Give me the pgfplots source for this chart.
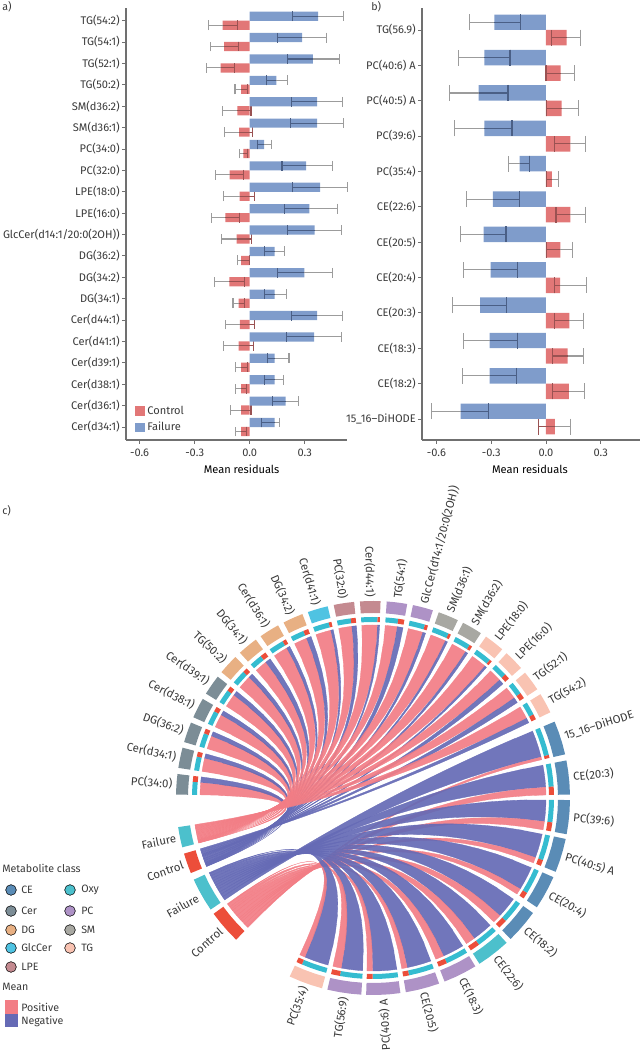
\documentclass[border=0pt]{standalone}
\usepackage{fontspec}
\setmainfont{Fira Sans}
\usepackage{pgfplots}
\usepackage{pgfplotstable}
\pgfplotsset{compat=1.18}

\definecolor{barblue}{HTML}{7F9CCB}
\definecolor{barred}{HTML}{E27777}
\definecolor{axgray}{HTML}{707070}
\definecolor{txt}{HTML}{3A3A3A}
\definecolor{whisk}{HTML}{9C9C9C}
\definecolor{whiskblue}{HTML}{4A5F86}
\definecolor{whiskred}{HTML}{9A5252}
\definecolor{pos}{HTML}{F27D85}
\definecolor{neg}{HTML}{656AB5}
\definecolor{cCE}{HTML}{5A8CB6}
\definecolor{cCer}{HTML}{7C8D96}
\definecolor{cDG}{HTML}{E8B083}
\definecolor{cGlc}{HTML}{4FC3E2}
\definecolor{cLPE}{HTML}{C48A90}
\definecolor{cOxy}{HTML}{4CC0CC}
\definecolor{cPC}{HTML}{AE92C6}
\definecolor{cSM}{HTML}{A8A8A2}
\definecolor{cTG}{HTML}{F9C3B2}
\definecolor{ringcy}{HTML}{35BCD0}
\definecolor{ringre}{HTML}{EC4E3A}

% pos failure minus plus control minus plus
\pgfplotstableread{
pos f fm fp c cm cp
19 0.373 0.138 0.138 -0.147 0.078 0.082
18 0.285 0.135 0.135 -0.140 0.075 0.078
17 0.344 0.140 0.147 -0.158 0.077 0.076
16 0.145 0.056 0.062 -0.047 0.033 0.034
15 0.367 0.138 0.138 -0.067 0.082 0.074
14 0.367 0.144 0.144 -0.058 0.078 0.074
13 0.078 0.036 0.042 -0.035 0.020 0.022
12 0.307 0.131 0.144 -0.109 0.075 0.074
11 0.384 0.149 0.149 -0.055 0.087 0.082
10 0.325 0.138 0.151 -0.133 0.076 0.078
9 0.353 0.145 0.145 -0.071 0.082 0.082
8 0.136 0.053 0.053 -0.047 0.022 0.045
7 0.298 0.147 0.153 -0.111 0.080 0.082
6 0.136 0.053 0.065 -0.060 0.031 0.033
5 0.367 0.138 0.138 -0.053 0.078 0.080
4 0.351 0.149 0.149 -0.060 0.084 0.082
3 0.136 0.038 0.078 -0.047 0.029 0.034
2 0.136 0.053 0.047 -0.047 0.029 0.029
1 0.196 0.071 0.069 -0.047 0.060 0.054
0 0.136 0.074 0.025 -0.047 0.029 0.029
}\dataA

\pgfplotstableread{
pos f fm fp c cm cp
11 -0.282 0.138 0.143 0.113 0.082 0.075
10 -0.338 0.139 0.141 0.080 0.080 0.077
9 -0.369 0.161 0.161 0.086 0.084 0.093
8 -0.338 0.161 0.152 0.133 0.084 0.086
7 -0.144 0.059 0.056 0.033 0.029 0.035
6 -0.291 0.144 0.147 0.133 0.078 0.086
5 -0.342 0.126 0.123 0.079 0.074 0.067
4 -0.303 0.149 0.148 0.077 0.029 0.144
3 -0.360 0.150 0.142 0.128 0.079 0.077
2 -0.309 0.143 0.154 0.119 0.082 0.086
1 -0.309 0.148 0.148 0.126 0.089 0.084
0 -0.468 0.157 0.152 0.049 0.089 0.086
}\dataB

% chord sectors, clockwise: name/angle/class colour/|failure mean|/|control mean|
\def\leftlist{PC(34:0)/176/cCer/0.078/0.035,
Cer(d34:1)/168.2/cCer/0.136/0.047,
DG(36:2)/160.5/cCer/0.136/0.047,
Cer(d38:1)/152.8/cCer/0.136/0.047,
Cer(d39:1)/145/cCer/0.136/0.047,
TG(50:2)/137.3/cDG/0.145/0.047,
DG(34:1)/129.5/cDG/0.136/0.060,
Cer(d36:1)/121.8/cDG/0.196/0.047,
DG(34:2)/114/cDG/0.298/0.111,
Cer(d41:1)/106.3/cGlc/0.351/0.060,
PC(32:0)/98.5/cLPE/0.307/0.109,
Cer(d44:1)/90.8/cLPE/0.367/0.053,
TG(54:1)/83/cPC/0.285/0.140,
{GlcCer(d14:1/20:0(2OH))}/75.3/cPC/0.353/0.071,
SM(d36:1)/67.5/cSM/0.367/0.058,
SM(d36:2)/59.8/cSM/0.367/0.067,
LPE(18:0)/52/cTG/0.384/0.055,
LPE(16:0)/44.3/cTG/0.325/0.133,
TG(52:1)/36.5/cTG/0.344/0.158,
TG(54:2)/28.8/cTG/0.373/0.147}
\def\rightlist{15\_16--DiHODE/17.8/cCE/0.468/0.049,
CE(20:3)/6/cCE/0.360/0.128,
PC(39:6)/-5.6/cCE/0.338/0.133,
PC(40:5) A/-17/cCE/0.369/0.086,
CE(20:4)/-28.7/cCE/0.303/0.077,
CE(18:2)/-40.7/cCE/0.309/0.126,
CE(22:6)/-52.3/cOxy/0.291/0.133,
CE(18:3)/-63.7/cPC/0.309/0.119,
CE(20:5)/-75.4/cPC/0.342/0.079,
PC(40:6) A/-87/cPC/0.338/0.080,
TG(56:9)/-98.4/cPC/0.282/0.113,
PC(35:4)/-110/cTG/0.144/0.033}

\def\Cx{373}\def\Cy{252}\def\Rr{173}\def\Rg{180}
\newcommand\arcpts[3]{\foreach \i in {0,...,3}{%
  \xdef\coords{\coords (\fpeval{round(\Cx+#1*cosd(#2+(#3-(#2))*\i/3),2)},\fpeval{round(\Cy+#1*sind(#2+(#3-(#2))*\i/3),2)}) }}}
% quadratic curve from radius #1 to radius #3 with its control point at the centre
\newcommand\bezpts[4]{\foreach \i in {1,...,17}{%
  \xdef\coords{\coords (\fpeval{round(\Cx+(1-\i/18)^2*#1*cosd(#2)+(\i/18)^2*#3*cosd(#4),2)},\fpeval{round(\Cy+(1-\i/18)^2*#1*sind(#2)+(\i/18)^2*#3*sind(#4),2)}) }}}
\newcommand\ribbon[5]{\gdef\coords{}\arcpts{\Rr}{#2}{#3}\bezpts{\Rr}{#3}{\Rg}{#4}\arcpts{\Rg}{#4}{#5}\bezpts{\Rg}{#5}{\Rr}{#2}%
  \edef\tmp{\noexpand\addplot[fill=#1,draw=#1,line width=0.25pt,opacity=0.92,forget plot] coordinates {\coords};}\tmp}
\newcommand\sector[5]{\gdef\coords{}\arcpts{#1}{#3}{#4}\arcpts{#2}{#4}{#3}%
  \edef\tmp{\noexpand\addplot[fill=#5,draw=none,forget plot] coordinates {\coords};}\tmp}
\newcommand\seclabel[3]{% name angle radius
  \edef\lx{\fpeval{round(\Cx+(#3)*cosd(#2),2)}}\edef\ly{\fpeval{round(\Cy+(#3)*sind(#2),2)}}%
  \edef\rot{\fpeval{#2>-85 && #2<85 ? #2 : #2+180}}%
  \edef\anc{\fpeval{#2>-85 && #2<85 ? 1 : 0}}%
  \edef\tmp{\noexpand\node[rotate=\rot,anchor=\ifnum\anc=1 west\else east\fi,inner sep=0pt,text=txt,font=\noexpand\fontsize{8.6}{10}\noexpand\selectfont] at (axis cs:\lx,\ly) {\unexpanded{#1}};}\tmp}

% #1 list #2 half width #3,#4,#5 failure group centre, half width, colour #6,#7,#8 control group
\newcommand\links[8]{%
  \gdef\sumF{0}\gdef\sumC{0}\gdef\cumF{0}\gdef\cumC{0}%
  \foreach \nm/\ang/\cl/\vf/\vc in #1 {\xdef\sumF{\fpeval{\sumF+\vf}}\xdef\sumC{\fpeval{\sumC+\vc}}}%
  \foreach \nm/\ang/\cl/\vf/\vc in #1 {%
    \edef\hi{\fpeval{\ang+#2}}\edef\lo{\fpeval{\ang-#2}}%
    \edef\cut{\fpeval{\hi-2*#2*\vf/(\vf+\vc)}}%
    \edef\bA{\fpeval{#3+#4-2*#4*\cumF/\sumF}}%
    \xdef\cumF{\fpeval{\cumF+\vf}}%
    \edef\bB{\fpeval{#3+#4-2*#4*\cumF/\sumF}}%
    \ribbon{#5}{\hi}{\cut}{\bA}{\bB}%
    \edef\bA{\fpeval{#6+#7-2*#7*\cumC/\sumC}}%
    \xdef\cumC{\fpeval{\cumC+\vc}}%
    \edef\bB{\fpeval{#6+#7-2*#7*\cumC/\sumC}}%
    \ribbon{#8}{\cut}{\lo}{\bA}{\bB}%
    \sector{181}{176}{\hi}{\cut}{ringcy}%
    \sector{181}{176}{\cut}{\lo}{ringre}%
    \sector{197}{185}{\hi}{\lo}{\cl}%
    \expandafter\seclabel\expandafter{\nm}{\ang}{201}%
  }}

\pgfplotsset{
  panel/.style={
    scale only axis, axis lines=left, axis line style={-,axgray,line width=0.9pt},
    tick style={axgray,line width=0.7pt}, tick align=outside, major tick length=3pt,
    xtick={-0.6,-0.3,0,0.3}, xticklabels={-0.6,-0.3,0.0,0.3},
    tick label style={text=txt}, ticklabel style={inner sep=1.5pt},
    xticklabel style={yshift=-1.8pt},
    font=\fontsize{8.3}{10}\selectfont, xlabel={Mean residuals}, clip=false,
    label style={text=txt}},
  % mark size, colour, direction
  errs/.style n args={3}{
    error bars/.cd, x dir=#3, x explicit,
    error bar style={color=#2,line width=0.8pt},
    error mark options={rotate=90,mark size=#1,color=#2,line width=0.8pt}},
  seg/.style={draw=none,mark=none,forget plot}
}

\begin{document}
\begin{tikzpicture}
\useasboundingbox (0,0) rectangle (480pt,787.5pt);

\begin{axis}[panel, at={(94.5pt,457.5pt)}, width=165.75pt, height=324pt,
  xmin=-0.674, xmax=0.53, ymin=-0.608, ymax=19.594,
  ytick={0,...,19},
  yticklabels={Cer(d34:1),Cer(d36:1),Cer(d38:1),Cer(d39:1),Cer(d41:1),Cer(d44:1),DG(34:1),DG(34:2),DG(36:2),{GlcCer(d14:1/20:0(2OH))},LPE(16:0),LPE(18:0),PC(32:0),PC(34:0),SM(d36:1),SM(d36:2),TG(50:2),TG(52:1),TG(54:1),TG(54:2)},
  every axis x label/.style={at={(axis description cs:0.523,-0.047)},anchor=north},
  legend style={at={(rel axis cs:0.035,0.007)},anchor=south west,draw=none,fill=none,inner sep=1pt,font=\fontsize{8.3}{10}\selectfont,text=txt,row sep=0.5pt},
  legend cell align=left]
\addplot[xbar,bar width=6.9pt,bar shift=0pt,fill=barred,draw=none,forget plot,errs={3.7pt}{whisk}{both}]
  table[x=c,y expr=\thisrow{pos}-0.21,x error minus=cm,x error plus=cp] {\dataA};
\addplot[seg,errs={3.7pt}{whiskred}{plus}]
  table[x=c,y expr=\thisrow{pos}-0.21,x error plus=cp] {\dataA};
\addplot[xbar,bar width=6.9pt,bar shift=0pt,fill=barblue,draw=none,forget plot,errs={3.7pt}{whisk}{both}]
  table[x=f,y expr=\thisrow{pos}+0.21,x error minus=fm,x error plus=fp] {\dataA};
\addplot[seg,errs={3.7pt}{whiskblue}{minus}]
  table[x=f,y expr=\thisrow{pos}+0.21,x error minus=fm] {\dataA};
\addlegendimage{legend image code/.code={\fill[barred] (0pt,-3.2pt) rectangle (6.6pt,3.2pt);}}
\addlegendentry{Control}
\addlegendimage{legend image code/.code={\fill[barblue] (0pt,-3.2pt) rectangle (6.6pt,3.2pt);}}
\addlegendentry{Failure}
\end{axis}

\begin{axis}[panel, at={(316.5pt,457.5pt)}, width=163.5pt, height=324pt,
  xmin=-0.679, xmax=0.515, ymin=-0.594, ymax=11.622,
  ytick={0,...,11},
  yticklabels={15\_16--DiHODE,CE(18:2),CE(18:3),CE(20:3),CE(20:4),CE(20:5),CE(22:6),PC(35:4),PC(39:6),PC(40:5) A,PC(40:6) A,TG(56.9)},
  every axis x label/.style={at={(axis description cs:0.495,-0.047)},anchor=north}]
\addplot[xbar,bar width=11.6pt,bar shift=0pt,fill=barred,draw=none,forget plot,errs={6pt}{whisk}{both}]
  table[x=c,y expr=\thisrow{pos}-0.219,x error minus=cm,x error plus=cp] {\dataB};
\addplot[seg,errs={6pt}{whiskred}{minus}]
  table[x=c,y expr=\thisrow{pos}-0.219,x error minus=cm] {\dataB};
\addplot[xbar,bar width=11.6pt,bar shift=0pt,fill=barblue,draw=none,forget plot,errs={6pt}{whisk}{both}]
  table[x=f,y expr=\thisrow{pos}+0.219,x error minus=fm,x error plus=fp] {\dataB};
\addplot[seg,errs={6pt}{whiskblue}{plus}]
  table[x=f,y expr=\thisrow{pos}+0.219,x error plus=fp] {\dataB};
\end{axis}

\begin{axis}[at={(0pt,0pt)}, scale only axis, width=480pt, height=787.5pt, hide axis,
  xmin=0, xmax=640, ymin=0, ymax=1050, clip=false,
  font=\fontsize{8}{10}\selectfont]
\links{\rightlist}{5}{209.5}{5}{neg}{221}{5}{pos}
\links{\leftlist}{3}{191.5}{3}{pos}{199.4}{3}{neg}
\sector{197}{185}{194.5}{188.5}{cOxy}
\sector{197}{185}{202.4}{196.4}{ringre}
\sector{197}{185}{214.5}{204.5}{cOxy}
\sector{197}{185}{226}{216}{ringre}
\seclabel{Failure}{191.5}{201}
\seclabel{Control}{199.4}{201}
\seclabel{Failure}{209.5}{201}
\seclabel{Control}{221}{201}

% legend of the chord diagram
\node[anchor=west,inner sep=0pt,text=txt] at (axis cs:2,182) {Metabolite class};
\node[anchor=west,inner sep=0pt,text=txt] at (axis cs:2,63) {Mean};
\addplot[only marks,mark=*,mark size=4pt,mark options={draw=none,fill=cCE},forget plot] coordinates {(11,160)};
\addplot[only marks,mark=*,mark size=4pt,mark options={draw=none,fill=cCer},forget plot] coordinates {(11,139)};
\addplot[only marks,mark=*,mark size=4pt,mark options={draw=none,fill=cDG},forget plot] coordinates {(11,120)};
\addplot[only marks,mark=*,mark size=4pt,mark options={draw=none,fill=cGlc},forget plot] coordinates {(11,102)};
\addplot[only marks,mark=*,mark size=4pt,mark options={draw=none,fill=cLPE},forget plot] coordinates {(11,83)};
\addplot[only marks,mark=*,mark size=4pt,mark options={draw=none,fill=cOxy},forget plot] coordinates {(70,160)};
\addplot[only marks,mark=*,mark size=4pt,mark options={draw=none,fill=cPC},forget plot] coordinates {(70,139)};
\addplot[only marks,mark=*,mark size=4pt,mark options={draw=none,fill=cSM},forget plot] coordinates {(70,120)};
\addplot[only marks,mark=*,mark size=4pt,mark options={draw=none,fill=cTG},forget plot] coordinates {(70,102)};
\addplot[fill=pos,draw=none,forget plot] coordinates {(5,50) (18,50) (18,36) (5,36)};
\addplot[fill=neg,draw=none,forget plot] coordinates {(5,36) (18,36) (18,23) (5,23)};
\foreach \tx/\ty/\lab in {21/160/CE,21/139/Cer,21/120/DG,21/102/GlcCer,21/83/LPE,81/160/Oxy,81/139/PC,81/120/SM,81/102/TG,21/43/Positive,21/29/Negative}{
  \edef\tmp{\noexpand\node[anchor=west,inner sep=0pt,text=txt] at (axis cs:\tx,\ty) {\lab};}\tmp}
\node[anchor=west,inner sep=0pt,text=txt] at (axis cs:2,1043) {a)};
\node[anchor=west,inner sep=0pt,text=txt] at (axis cs:371,1043) {b)};
\node[anchor=west,inner sep=0pt,text=txt] at (axis cs:2,539) {c)};
\end{axis}
\end{tikzpicture}
\end{document}
